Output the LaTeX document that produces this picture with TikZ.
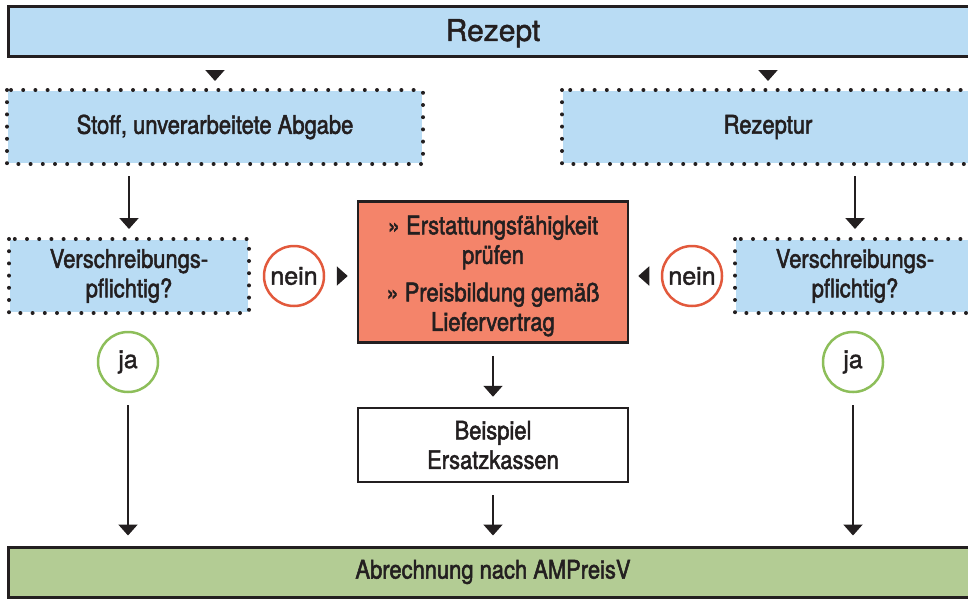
\documentclass[tikz,border=0pt]{standalone}
\usepackage{fontspec}
\setmainfont{TeX Gyre Heros}[FakeStretch=0.86, FakeBold=2]
\newfontfamily\regfont{TeX Gyre Heros}[FakeBold=1.6]
\usetikzlibrary{positioning, calc, arrows.meta}

\definecolor{txt}{HTML}{231F20}
\definecolor{rxblue}{HTML}{B9DCF4}
\definecolor{rxred}{HTML}{F4846A}
\definecolor{rxgreen}{HTML}{B3CC94}
\definecolor{neinring}{HTML}{E2593C}
\definecolor{jaring}{HTML}{8DBE5A}

\begin{document}
\begin{tikzpicture}[
  x=1pt, y=-1pt,
  >={Triangle[length=11pt, width=19pt]}, line width=2pt, color=txt,
  every node/.style = {font=\fontsize{25.5}{29.5}\selectfont, text=txt, align=center, inner sep=0pt},
  bar/.style    = {draw, line width=3pt, rectangle, minimum width=970pt, minimum height=50pt},
  dotbox/.style = {fill=rxblue, rectangle, minimum height=72pt},
  dots/.style   = {draw=txt, line width=4pt, line cap=round, dash pattern=on 0pt off 12.2pt},
  block/.style  = {draw, line width=2.5pt, rectangle, minimum width=270pt},
  ring/.style   = {draw, circle, line width=2.5pt, minimum size=60pt, font=\regfont\fontsize{25}{30}\selectfont},
  arr/.style    = {->, shorten <=12pt, shorten >=10pt},
  tip/.style    = {->, shorten <=13pt, shorten >=9pt},
]
  \clip (0,0) rectangle (968,598);
  \useasboundingbox (0,0) rectangle (968,598);

  \node[bar, fill=rxblue, font=\regfont\fontsize{30}{36}\selectfont, text depth=2pt] (rezept) at (493,31) {Rezept};

  \node[dotbox, minimum width=414pt] (stoff)    at (215,127) {Stoff, unverarbeitete Abgabe};
  \node[dotbox, minimum width=410pt] (rezeptur) at (768,127) {Rezeptur};
  \node[dotbox, minimum width=238pt] (verschrL) at (129,276) {Verschreibungs-\\pflichtig?};
  \node[dotbox, minimum width=238pt] (verschrR) at (855,276) {Verschreibungs-\\pflichtig?};
  \foreach \n in {stoff, rezeptur, verschrL, verschrR}
    \draw[dots] (\n.north west) rectangle (\n.south east);

  \node[block, fill=rxred, minimum height=141pt] (pruef) at (493,272) {};
  \node at ($(pruef.center)+(0,4)$)
    {» Erstattungsfähigkeit\\prüfen\\[8pt]» Preisbildung gemäß\\Liefervertrag};
  \node[block, fill=white, minimum height=74pt] (beispiel) at (493,445) {Beispiel\\Ersatzkassen};

  \node[ring, draw=neinring] (neinL) at (294,276) {nein};
  \node[ring, draw=neinring] (neinR) at (692,276) {nein};
  \node[ring, draw=jaring]   (jaL)   at (128,362) {ja};
  \node[ring, draw=jaring]   (jaR)   at (853,362) {ja};

  \node[bar, fill=rxgreen] (abr) at (493,572) {Abrechnung nach AMPreisV};

  % single tips
  \draw[tip] (rezept.south -| stoff.north)    -- (stoff.north);
  \draw[tip] (rezept.south -| rezeptur.north) -- (rezeptur.north);
  \draw[tip] (neinL.east) -- (neinL.east -| pruef.west);
  \draw[tip] (neinR.west) -- (neinR.west -| pruef.east);

  % arrows
  \draw[arr] (stoff.south -| verschrL.north)    -- (verschrL.north);
  \draw[arr] (rezeptur.south -| verschrR.north) -- (verschrR.north);
  \draw[arr] (jaL.south) -- (jaL.south |- abr.north);
  \draw[arr] (jaR.south) -- (jaR.south |- abr.north);
  \draw[arr] (pruef.south)    -- (beispiel.north);
  \draw[arr] (beispiel.south) -- (abr.north);
\end{tikzpicture}
\end{document}
